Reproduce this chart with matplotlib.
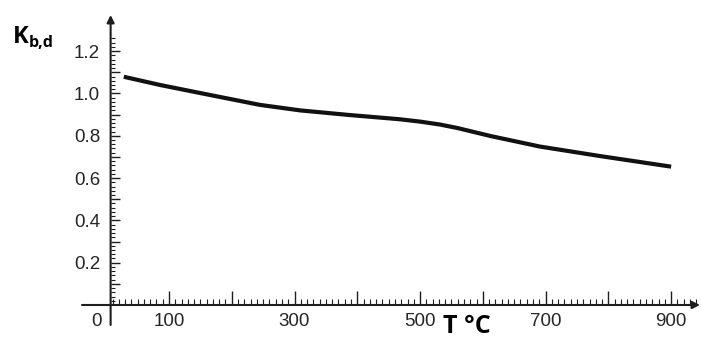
import numpy as np
import matplotlib.pyplot as plt
from matplotlib.ticker import FixedLocator, FuncFormatter

##------------------------------DATA-----------------------------##
temp = [28, 86, 165, 245, 309, 388, 468, 500, 532, 559, 612, 691, 787, 900]
k_bd = [1.079, 1.040, 0.993, 0.946, 0.920, 0.898, 0.878, 0.867, 0.853, 0.837, 0.799, 0.749, 0.704, 0.654]

x_major = list(range(100, 1000, 100))
x_labelled = [100, 300, 500, 700, 900]
y_major = [round(0.1 * i, 1) for i in range(1, 13)]
y_labelled = [0.2, 0.4, 0.6, 0.8, 1.0, 1.2]

##------------------------------STYLE----------------------------##
plt.rcParams['font.family'] = ['Liberation Sans', 'DejaVu Sans']
axcol = '#1e1e1e'
txtcol = '#262626'

fig = plt.figure(figsize=(7.01, 3.41), dpi=100)
ax = fig.add_axes([82/701, 16/341, 618/701, 310/341])
xmin, xmax = -38.6, 946
ymin, ymax = -0.0946, 1.371
ax.set_xlim(xmin, xmax)
ax.set_ylim(ymin, ymax)

# the curve
ax.plot(temp, k_bd, color='#111111', lw=3.0, solid_capstyle='butt', solid_joinstyle='round')

# axes as arrows, ticks still follow spine positions
for s in ['top', 'right', 'left', 'bottom']:
    ax.spines[s].set_visible(False)
ax.spines['left'].set_position(('data', 7))
ax.spines['bottom'].set_position(('data', 0))
arrow = dict(arrowstyle='-|>', lw=1.5, color=axcol, mutation_scale=11, shrinkA=0, shrinkB=0)
ax.annotate('', xy=(xmax, 0), xytext=(xmin, 0), annotation_clip=False, arrowprops=arrow)
ax.annotate('', xy=(7, ymax), xytext=(7, ymin), annotation_clip=False, arrowprops=arrow)

# x ticks
ax.xaxis.set_major_locator(FixedLocator(x_major))
ax.xaxis.set_minor_locator(FixedLocator([t for t in range(10, 950, 10) if t % 100]))
ax.xaxis.set_major_formatter(FuncFormatter(lambda v, p: '%d' % v if int(round(v)) in x_labelled else ''))
ax.tick_params(axis='x', which='major', direction='in', length=10, width=1.0, color=axcol,
               pad=6, labelsize=13.5, labelcolor=txtcol)
ax.tick_params(axis='x', which='minor', direction='in', length=4.5, width=0.8, color=axcol)

# y ticks
ax.yaxis.set_major_locator(FixedLocator(y_major))
ax.yaxis.set_minor_locator(FixedLocator([round(0.02 * i, 2) for i in range(1, 64) if i % 5]))
ax.yaxis.set_major_formatter(FuncFormatter(lambda v, p: '%.1f' % v if round(v, 1) in y_labelled else ''))
ax.tick_params(axis='y', which='major', direction='in', length=6.5, width=1.0, color=axcol,
               pad=7.5, labelsize=13.5, labelcolor=txtcol)
ax.tick_params(axis='y', which='minor', direction='in', length=3, width=0.8, color=axcol)

ax.annotate('0', xy=(-15, 0), xytext=(0, -6), textcoords='offset points',
            ha='center', va='top', fontsize=13.5, color=txtcol, annotation_clip=False)

# labels
fig.text(13/701, (341-43)/341, 'K', fontsize=17, fontweight='bold', family='Open Sans', color='black')
fig.text(29/701, (341-47)/341, 'b,d', fontsize=11.5, fontweight='bold', family='Open Sans', color='black')
fig.text(443/701, (341-314)/341, 'T °C', fontsize=18, fontweight='bold',
         family='Open Sans', va='top', color='black')

plt.savefig('out.png', dpi=100)
